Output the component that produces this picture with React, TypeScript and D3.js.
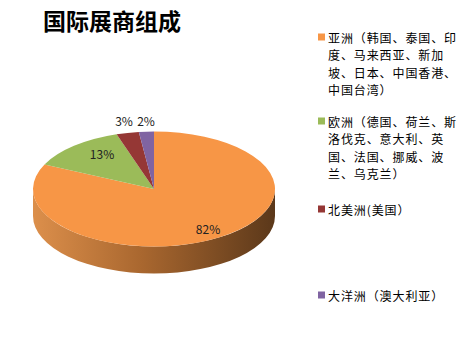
import React from "react";
import * as d3 from "d3";

const categories = ["亚洲", "欧洲", "北美洲", "大洋洲"];
const values = [82, 13, 3, 2];
const labels = ["82%", "13%", "3%", "2%"];
const legendLines = [
  ["亚洲（韩国、泰国、印", "度、马来西亚、新加", "坡、日本、中国香港、", "中国台湾）"],
  ["欧洲（德国、荷兰、斯", "洛伐克、意大利、英", "国、法国、挪威、波", "兰、乌克兰）"],
  ["北美洲(美国）"],
  ["大洋洲（澳大利亚）"],
];
const colors = ["#F79646", "#9BBB59", "#953735", "#8064A2"];
const title = "国际展商组成";

const W = 474, H = 356;
const cx = 154, cy = 189, rx = 121, ry = 57.5, depth = 27;

export default function App() {
  const pie = d3.pie<number>().sort(null).value((d) => d)(values);
  const arc = d3.arc<d3.PieArcDatum<number>>().innerRadius(0).outerRadius(rx);
  const sideTop = cy;
  const sidePath = `M${cx - rx},${sideTop} A${rx},${ry} 0 0 0 ${cx + rx},${sideTop} L${cx + rx},${sideTop + depth} A${rx},${ry} 0 0 1 ${cx - rx},${sideTop + depth} Z`;
  const labelPos = [
    [208, 228],
    [102, 153],
    [124, 120],
    [146, 120],
  ];
  const legendY = [37, 121, 209, 295];
  const lineH = 17.5;
  const font = "'Noto Sans CJK SC', 'Noto Sans', sans-serif";
  return (
    <svg width={W} height={H} style={{ position: "absolute", left: 0, top: 0 }}>
      <defs>
        <linearGradient id="side" x1="0" x2="1" y1="0" y2="0">
          <stop offset="0" stopColor="#DC8F4B" />
          <stop offset="0.45" stopColor="#A9672F" />
          <stop offset="1" stopColor="#5B381A" />
        </linearGradient>
      </defs>
      <rect width={W} height={H} fill="#fff" />
      <text x={43} y={30} fontSize={23} fontWeight="bold" fontFamily={font} fill="#000">
        {title}
      </text>
      <path d={sidePath} fill="url(#side)" />
      <g transform={`translate(${cx},${cy}) scale(1,${ry / rx})`}>
        {pie.map((p, i) => (
          <path key={categories[i]} d={arc(p) || ""} fill={colors[i]} />
        ))}
      </g>
      {labels.map((l, i) => (
        <text key={l} x={labelPos[i][0]} y={labelPos[i][1]} fontSize={12} fontFamily={font} fill="#222" textAnchor="middle" dominantBaseline="central">
          {l}
        </text>
      ))}
      {legendLines.map((lines, i) => (
        <g key={i}>
          <rect x={318} y={legendY[i] - 3.5} width={7} height={7} fill={colors[i]} />
          {lines.map((t, j) => (
            <text key={j} x={328} y={legendY[i] + j * lineH} fontSize={12} letterSpacing={0.9} fontFamily={font} fill="#000" dominantBaseline="central">
              {t}
            </text>
          ))}
        </g>
      ))}
    </svg>
  );
}
